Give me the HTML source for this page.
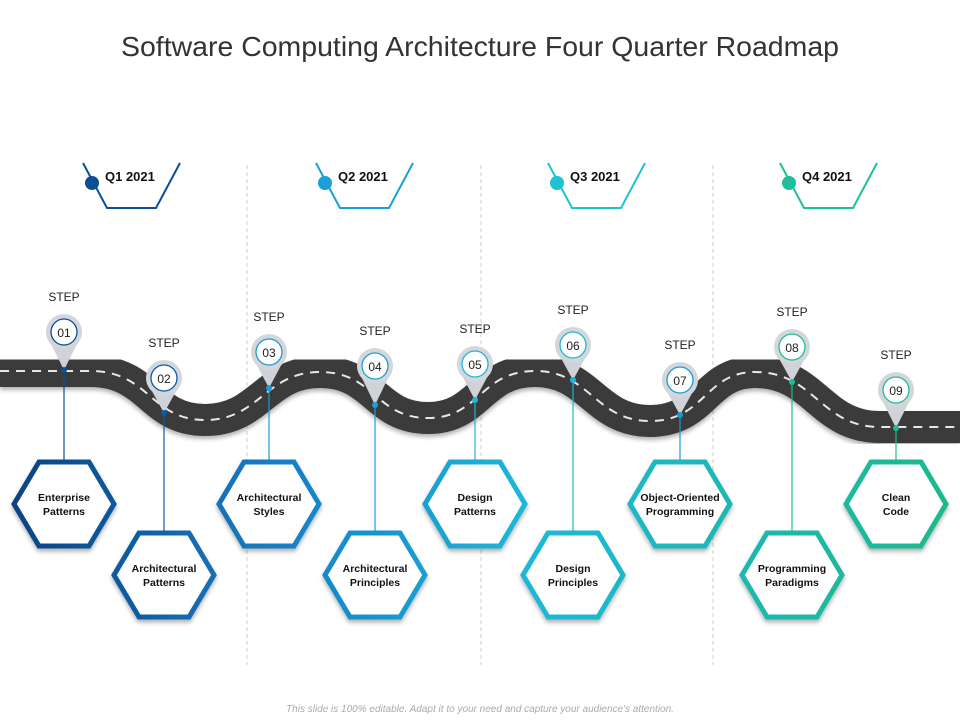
<!DOCTYPE html>
<html><head><meta charset="utf-8">
<style>
body{margin:0;background:#fff;}
svg{display:block;font-family:"Liberation Sans",sans-serif;}
</style></head>
<body>
<svg width="960" height="720" viewBox="0 0 960 720">
<defs>
<linearGradient id="hg" gradientUnits="userSpaceOnUse" x1="0" y1="0" x2="960" y2="0">
<stop offset="0" stop-color="#0b3f82"/><stop offset="0.3" stop-color="#1680c8"/><stop offset="0.55" stop-color="#1cb8d8"/><stop offset="1" stop-color="#1cb98a"/>
</linearGradient>
<filter id="sh" x="-20%" y="-20%" width="140%" height="150%"><feDropShadow dx="0" dy="3" stdDeviation="2" flood-color="#000" flood-opacity="0.3"/></filter>
</defs>
<text x="480" y="56" text-anchor="middle" font-size="28" fill="#333" textLength="718" lengthAdjust="spacingAndGlyphs">Software Computing Architecture Four Quarter Roadmap</text>

<g stroke="#ccc" stroke-dasharray="4,3" stroke-width="1">
<line x1="247" y1="165" x2="247" y2="665"/><line x1="481" y1="165" x2="481" y2="665"/><line x1="713" y1="165" x2="713" y2="665"/>
</g>

<g id="quarters"></g>

<g>
<path d="M0,371 L90,371 C150,371 150,420 205,420 C260,420 265,372 320,372 C375,372 375,418 428,418 C480,418 480,371 535,371 C590,371 595,421 650,421 C705,421 705,372 755,372 C815,372 820,427 880,427 L960,427" fill="none" stroke="#3a3a3a" stroke-width="32" filter="url(#sh)"/>
<path d="M0,371 L90,371 C150,371 150,420 205,420 C260,420 265,372 320,372 C375,372 375,418 428,418 C480,418 480,371 535,371 C590,371 595,421 650,421 C705,421 705,372 755,372 C815,372 820,427 880,427 L960,427" fill="none" stroke="#e8e8e8" stroke-width="2" stroke-dasharray="9,7"/>
</g>

<g id="steps"></g>

<text x="480" y="712" text-anchor="middle" font-size="10" font-style="italic" fill="#aaa">This slide is 100% editable. Adapt it to your need and capture your audience's attention.</text>
</svg>
<script>
var NS="http://www.w3.org/2000/svg";
var quarterLabels=["Q1 2021","Q2 2021","Q3 2021","Q4 2021"];
var quarterColors=["#0b4f98","#1a9fd8","#1ec2d2","#1fbf9c"];
var quarterX=[83,316,548,780];
var stepNums=["01","02","03","04","05","06","07","08","09"];
var stepLabels=[["Enterprise","Patterns"],["Architectural","Patterns"],["Architectural","Styles"],["Architectural","Principles"],["Design","Patterns"],["Design","Principles"],["Object-Oriented","Programming"],["Programming","Paradigms"],["Clean","Code"]];
var stepX=[64,164,269,375,475,573,680,792,896];
var pinY=[332,378,352,366,364,345,380,347,390];
var tipY=[370,413,388,405,400,380,415,382,428];
var pinColors=["#0b4f98","#0d5aa6","#1a9ad6","#1aa0d8","#1cb6d8","#1cb8d8","#1a9ad6","#1cbf95","#1cbf95"];
function mk(t,a,p){var e=document.createElementNS(NS,t);for(var k in a)e.setAttribute(k,a[k]);p.appendChild(e);return e;}
var qg=document.getElementById('quarters');
quarterLabels.forEach(function(l,i){
 var x=quarterX[i],c=quarterColors[i];
 var g=mk('g',{},qg);
 
 
 mk('path',{d:'M'+x+',163 L'+(x+24)+',208 L'+(x+73)+',208 L'+(x+97)+',163',fill:'none',stroke:c,'stroke-width':2},g);
 mk('circle',{cx:x+9,cy:183,r:7,fill:c},g);
 var t=mk('text',{x:x+22,y:181,'font-size':13,'font-weight':'bold',fill:'#111'},g);t.textContent=l;
});
var sg=document.getElementById('steps');
stepNums.forEach(function(n,i){
 var x=stepX[i],py=pinY[i],ty=tipY[i],c=pinColors[i];
 var hy=(i%2===0)?504:575;
 var g=mk('g',{},sg);
 
 
 mk('line',{x1:x,y1:ty,x2:x,y2:hy-43,stroke:c,'stroke-width':1.2},g);
 mk('path',{d:'M'+(x-16)+','+(py+6)+' L'+x+','+ty+' L'+(x+16)+','+(py+6)+' Z',fill:'#cfd2d6'},g);
 mk('circle',{cx:x,cy:py,r:18,fill:'#d3d6da'},g);
 mk('circle',{cx:x,cy:py,r:13,fill:'#fff',stroke:c,'stroke-width':1.3},g);
 mk('circle',{cx:x,cy:ty,r:3,fill:c},g);
 var t=mk('text',{x:x,y:py+5,'text-anchor':'middle','font-size':12,fill:'#222'},g);t.textContent=n;
 var s=mk('text',{x:x,y:py-31,'text-anchor':'middle','font-size':12,fill:'#222'},g);s.textContent='STEP';
 var hx=mk('path',{d:'M'+(x-50)+','+hy+' L'+(x-25)+','+(hy-42)+' L'+(x+25)+','+(hy-42)+' L'+(x+50)+','+hy+' L'+(x+25)+','+(hy+42)+' L'+(x-25)+','+(hy+42)+' Z',fill:'#fff',stroke:'url(#hg)','stroke-width':5,'stroke-linejoin':'miter',filter:'url(#sh)'},g);
 
 
 var l=stepLabels[i];
 var a=mk('text',{x:x,y:hy-3,'text-anchor':'middle','font-size':10.5,'font-weight':'bold',fill:'#111'},g);a.textContent=l[0];
 var b=mk('text',{x:x,y:hy+11,'text-anchor':'middle','font-size':10.5,'font-weight':'bold',fill:'#111'},g);b.textContent=l[1];
});
</script>
</body></html>
